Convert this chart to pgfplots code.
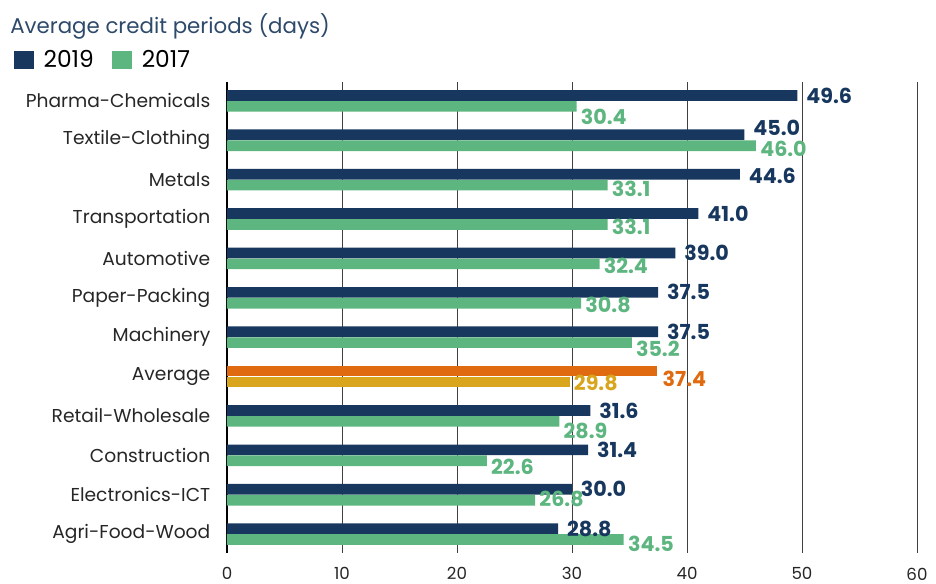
\documentclass[border=0pt]{standalone}
\usepackage{fontspec}
\setmainfont{Poppins}
\usepackage{pgfplots}
\usepackage{pgfplotstable}
\pgfplotsset{compat=1.18}
\definecolor{navy}{HTML}{17375E}
\definecolor{leaf}{HTML}{5DB57F}
\definecolor{avgorange}{HTML}{E06A10}
\definecolor{avggold}{HTML}{D8A51C}
\definecolor{titleblue}{HTML}{2E4A6B}

% y = 11 (top) ... 0 (bottom); row 4 is the average
% dy = vertical nudge of the value label, in pt
\pgfplotstableread{
y v dy
11 49.6 0
10 45.0 5.5
9 44.6 -1
8 41.0 0
7 39.0 0
6 37.5 0
5 37.5 0
3 31.6 0
2 31.4 0
1 30.0 0
0 28.8 0
}\yrnineteen
\pgfplotstableread{
y v dy
11 30.4 -8
10 46.0 -2.5
9 33.1 -2.5
8 33.1 -1.5
7 32.4 -1.5
6 30.8 -1.5
5 35.2 -5
3 28.9 -7
2 22.6 -4.5
1 26.8 1
0 34.5 -3
}\yrseventeen
\pgfplotstableread{
y v dy
4 37.4 -6
}\avgnineteen
\pgfplotstableread{
y v dy
4 29.8 -1
}\avgseventeen

\begin{document}
\begin{tikzpicture}
\useasboundingbox (-170.25pt,-23.25pt) rectangle (531.75pt,414.75pt);
\begin{axis}[
  scale only axis,
  width=517.5pt, height=353.25pt,
  xbar, bar width=8pt,
  xmin=0, xmax=60,
  ymin=-0.48, ymax=11.48,
  xtick={0,10,...,60},
  ytick={0,...,11},
  yticklabels={Agri-Food-Wood,Electronics-ICT,Construction,Retail-Wholesale,Average,Machinery,Paper-Packing,Automotive,Transportation,Metals,Textile-Clothing,Pharma-Chemicals},
  axis line style={draw=none},
  major tick length=0pt,
  xmajorgrids,
  grid style={black!75, line width=0.6pt},
  extra x ticks={0},
  extra x tick labels={},
  extra x tick style={grid style={black, line width=1.1pt}},
  /pgf/number format/assume math mode=true,
  yticklabel style={font=\fontsize{14}{17}\selectfont, text=black!85, xshift=-9pt},
  xticklabel style={font=\fontsize{12.5}{15}\selectfont, text=black!85, yshift=-7.5pt},
  title={Average credit periods (days)},
  every axis title shift=0pt,
  title style={at={(rel axis cs:-0.3145,1.119)}, anchor=west, inner sep=0pt,
    font=\fontsize{16}{18}\selectfont, text=titleblue},
  legend columns=2,
  legend style={at={(rel axis cs:-0.3087,1.047)}, anchor=west, draw=none,
    fill=none, inner sep=0pt, font=\fontsize{17.5}{20}\selectfont,
    /tikz/every odd column/.append style={column sep=5pt},
    /tikz/every even column/.append style={column sep=12pt}},
  legend image code/.code={\fill[#1,draw=none] (0pt,-6.75pt) rectangle (15pt,6.75pt);},
  point meta=x,
  visualization depends on={\thisrow{dy} \as \dy},
  nodes near coords={\pgfmathprintnumber[fixed,fixed zerofill,precision=1]{\pgfplotspointmeta}},
  every node near coord/.append style={font=\bfseries\fontsize{15.5}{18}\selectfont,
    anchor=west, inner xsep=2pt, yshift=\dy pt},
]
\addplot[fill=navy, draw=none, bar shift=4.1pt,
  every node near coord/.append style={text=navy, xshift=4.5pt}]
  table[x=v, y=y] {\yrnineteen};
\addplot[fill=leaf, draw=none, bar shift=-4.1pt,
  every node near coord/.append style={text=leaf, xshift=1pt}]
  table[x=v, y=y] {\yrseventeen};
\addplot[fill=avgorange, draw=none, bar shift=4.1pt, forget plot,
  every node near coord/.append style={text=avgorange, xshift=2pt}]
  table[x=v, y=y] {\avgnineteen};
\addplot[fill=avggold, draw=none, bar shift=-4.1pt, forget plot,
  every node near coord/.append style={text=avggold, xshift=1pt}]
  table[x=v, y=y] {\avgseventeen};
\legend{2019, 2017}
\end{axis}
\end{tikzpicture}
\end{document}
